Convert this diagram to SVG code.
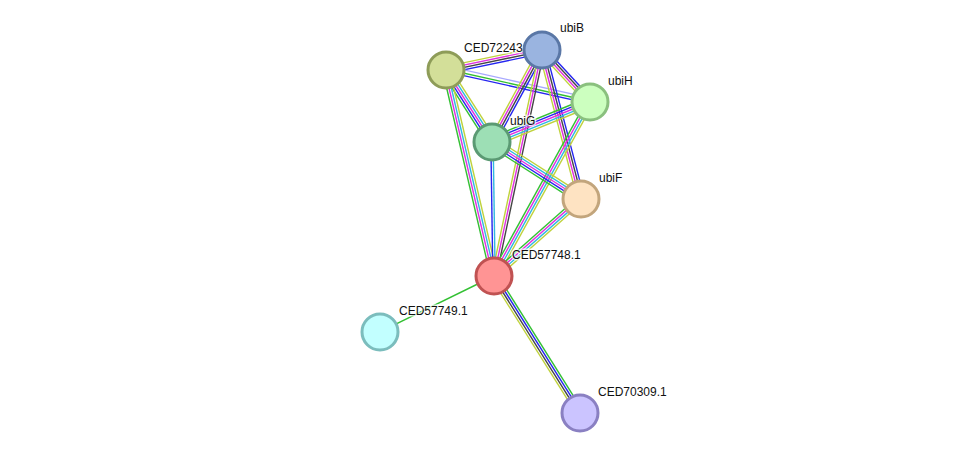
<svg xmlns="http://www.w3.org/2000/svg" width="975" height="459" viewBox="0 0 975 459">
<style>
line{stroke-width:1.4;fill:none}
.g{stroke:#33c033}.b{stroke:#2525f0}.k{stroke:#444}.m{stroke:#e030e0}.c{stroke:#30b8e0}.y{stroke:#bfd23c}.l{stroke:#a8a8ff}
.node circle{stroke-width:3}
text{font-family:"Liberation Sans",Arial,sans-serif;font-size:12px;fill:#111;stroke:#fff;stroke-width:3;stroke-opacity:0.7;paint-order:stroke}
</style>
<rect width="975" height="459" fill="#fff"/>
<g id="connectors">
<g transform="translate(446 70) rotate(-11.77)"><line class="b" x1="0" y1="3.45" x2="98" y2="3.45"/><line class="k" x1="0" y1="1.15" x2="98" y2="1.15"/><line class="m" x1="0" y1="-1.15" x2="98" y2="-1.15"/><line class="y" x1="0" y1="-3.45" x2="98" y2="-3.45"/></g>
<g transform="translate(446 70) rotate(12.53)"><line class="l" x1="0" y1="-4" x2="147.5" y2="-4"/><line class="g" x1="0" y1="-0.8" x2="147.5" y2="-0.8"/><line class="b" x1="0" y1="1.6" x2="147.5" y2="1.6"/></g>
<g transform="translate(446 70) rotate(57.42)"><line class="y" x1="0" y1="-4.6" x2="85.4" y2="-4.6"/><line class="c" x1="0" y1="-2.3" x2="85.4" y2="-2.3"/><line class="m" x1="0" y1="0" x2="85.4" y2="0"/><line class="b" x1="0" y1="2.3" x2="85.4" y2="2.3"/><line class="g" x1="0" y1="4.6" x2="85.4" y2="4.6"/></g>
<g transform="translate(446 70) rotate(76.88)"><line class="g" x1="0" y1="3.45" x2="211.5" y2="3.45"/><line class="m" x1="0" y1="1.15" x2="211.5" y2="1.15"/><line class="c" x1="0" y1="-1.15" x2="211.5" y2="-1.15"/><line class="y" x1="0" y1="-3.45" x2="211.5" y2="-3.45"/></g>
<g transform="translate(542 50) rotate(47.29)"><line class="b" x1="0" y1="-3.45" x2="70.8" y2="-3.45"/><line class="k" x1="0" y1="-1.15" x2="70.8" y2="-1.15"/><line class="m" x1="0" y1="1.15" x2="70.8" y2="1.15"/><line class="y" x1="0" y1="3.45" x2="70.8" y2="3.45"/></g>
<g transform="translate(542 50) rotate(118.52)"><line class="y" x1="0" y1="3.45" x2="104.7" y2="3.45"/><line class="m" x1="0" y1="1.15" x2="104.7" y2="1.15"/><line class="k" x1="0" y1="-1.15" x2="104.7" y2="-1.15"/><line class="b" x1="0" y1="-3.45" x2="104.7" y2="-3.45"/></g>
<g transform="translate(542 50) rotate(101.99)"><line class="y" x1="0" y1="2.3" x2="231" y2="2.3"/><line class="m" x1="0" y1="0" x2="231" y2="0"/><line class="k" x1="0" y1="-2.3" x2="231" y2="-2.3"/></g>
<g transform="translate(542 50) rotate(75.33)"><line class="y" x1="0" y1="3.45" x2="154" y2="3.45"/><line class="m" x1="0" y1="1.15" x2="154" y2="1.15"/><line class="k" x1="0" y1="-1.15" x2="154" y2="-1.15"/><line class="b" x1="0" y1="-3.45" x2="154" y2="-3.45"/></g>
<g transform="translate(590 102) rotate(157.8)"><line class="g" x1="0" y1="4.6" x2="105.9" y2="4.6"/><line class="b" x1="0" y1="2.3" x2="105.9" y2="2.3"/><line class="m" x1="0" y1="0" x2="105.9" y2="0"/><line class="c" x1="0" y1="-2.3" x2="105.9" y2="-2.3"/><line class="y" x1="0" y1="-4.6" x2="105.9" y2="-4.6"/></g>
<g transform="translate(590 102) rotate(118.89)"><line class="g" x1="0" y1="3.45" x2="198.7" y2="3.45"/><line class="m" x1="0" y1="1.15" x2="198.7" y2="1.15"/><line class="c" x1="0" y1="-1.15" x2="198.7" y2="-1.15"/><line class="y" x1="0" y1="-3.45" x2="198.7" y2="-3.45"/></g>
<g transform="translate(492 142) rotate(32.64)"><line class="g" x1="0" y1="4.6" x2="105.7" y2="4.6"/><line class="b" x1="0" y1="2.3" x2="105.7" y2="2.3"/><line class="m" x1="0" y1="0" x2="105.7" y2="0"/><line class="c" x1="0" y1="-2.3" x2="105.7" y2="-2.3"/><line class="y" x1="0" y1="-4.6" x2="105.7" y2="-4.6"/></g>
<g transform="translate(492 142) rotate(89.14)"><line class="b" x1="0" y1="1.15" x2="134" y2="1.15"/><line class="c" x1="0" y1="-1.15" x2="134" y2="-1.15"/></g>
<g transform="translate(581 199) rotate(138.49)"><line class="g" x1="0" y1="3.45" x2="116.2" y2="3.45"/><line class="m" x1="0" y1="1.15" x2="116.2" y2="1.15"/><line class="c" x1="0" y1="-1.15" x2="116.2" y2="-1.15"/><line class="y" x1="0" y1="-3.45" x2="116.2" y2="-3.45"/></g>
<g transform="translate(494 276) rotate(153.84)"><line class="g" x1="0" y1="0" x2="127" y2="0"/></g>
<g transform="translate(494 276) rotate(57.88)"><line class="g" x1="0" y1="-3.45" x2="161.8" y2="-3.45"/><line class="b" x1="0" y1="-1.15" x2="161.8" y2="-1.15"/><line class="k" x1="0" y1="1.15" x2="161.8" y2="1.15"/><line class="y" x1="0" y1="3.45" x2="161.8" y2="3.45"/></g>
</g>
<g id="CED72243" class="node"><circle cx="446" cy="70" r="18" fill="#d3df99" stroke="#8e9c58"/><text x="464" y="52">CED72243</text></g>
<g id="ubiB" class="node"><circle cx="542" cy="50" r="18" fill="#9ab4e0" stroke="#5a77a6"/><text x="560" y="32">ubiB</text></g>
<g id="ubiH" class="node"><circle cx="590" cy="102" r="18" fill="#ccffbf" stroke="#8ac07e"/><text x="608" y="85">ubiH</text></g>
<g id="ubiG" class="node"><circle cx="492" cy="142" r="18" fill="#9ddfb5" stroke="#5b9a73"/><text x="510" y="125">ubiG</text></g>
<g id="ubiF" class="node"><circle cx="581" cy="199" r="18" fill="#fee3c2" stroke="#c2a57c"/><text x="599" y="182">ubiF</text></g>
<g id="CED57748.1" class="node"><circle cx="494" cy="276" r="18" fill="#ff9494" stroke="#c05252"/><text x="512" y="259">CED57748.1</text></g>
<g id="CED57749.1" class="node"><circle cx="380" cy="332" r="18" fill="#c2ffff" stroke="#7bbdbd"/><text x="399" y="315">CED57749.1</text></g>
<g id="CED70309.1" class="node"><circle cx="580" cy="413" r="18" fill="#cbc4ff" stroke="#8a80c2"/><text x="598" y="396">CED70309.1</text></g>
</svg>
